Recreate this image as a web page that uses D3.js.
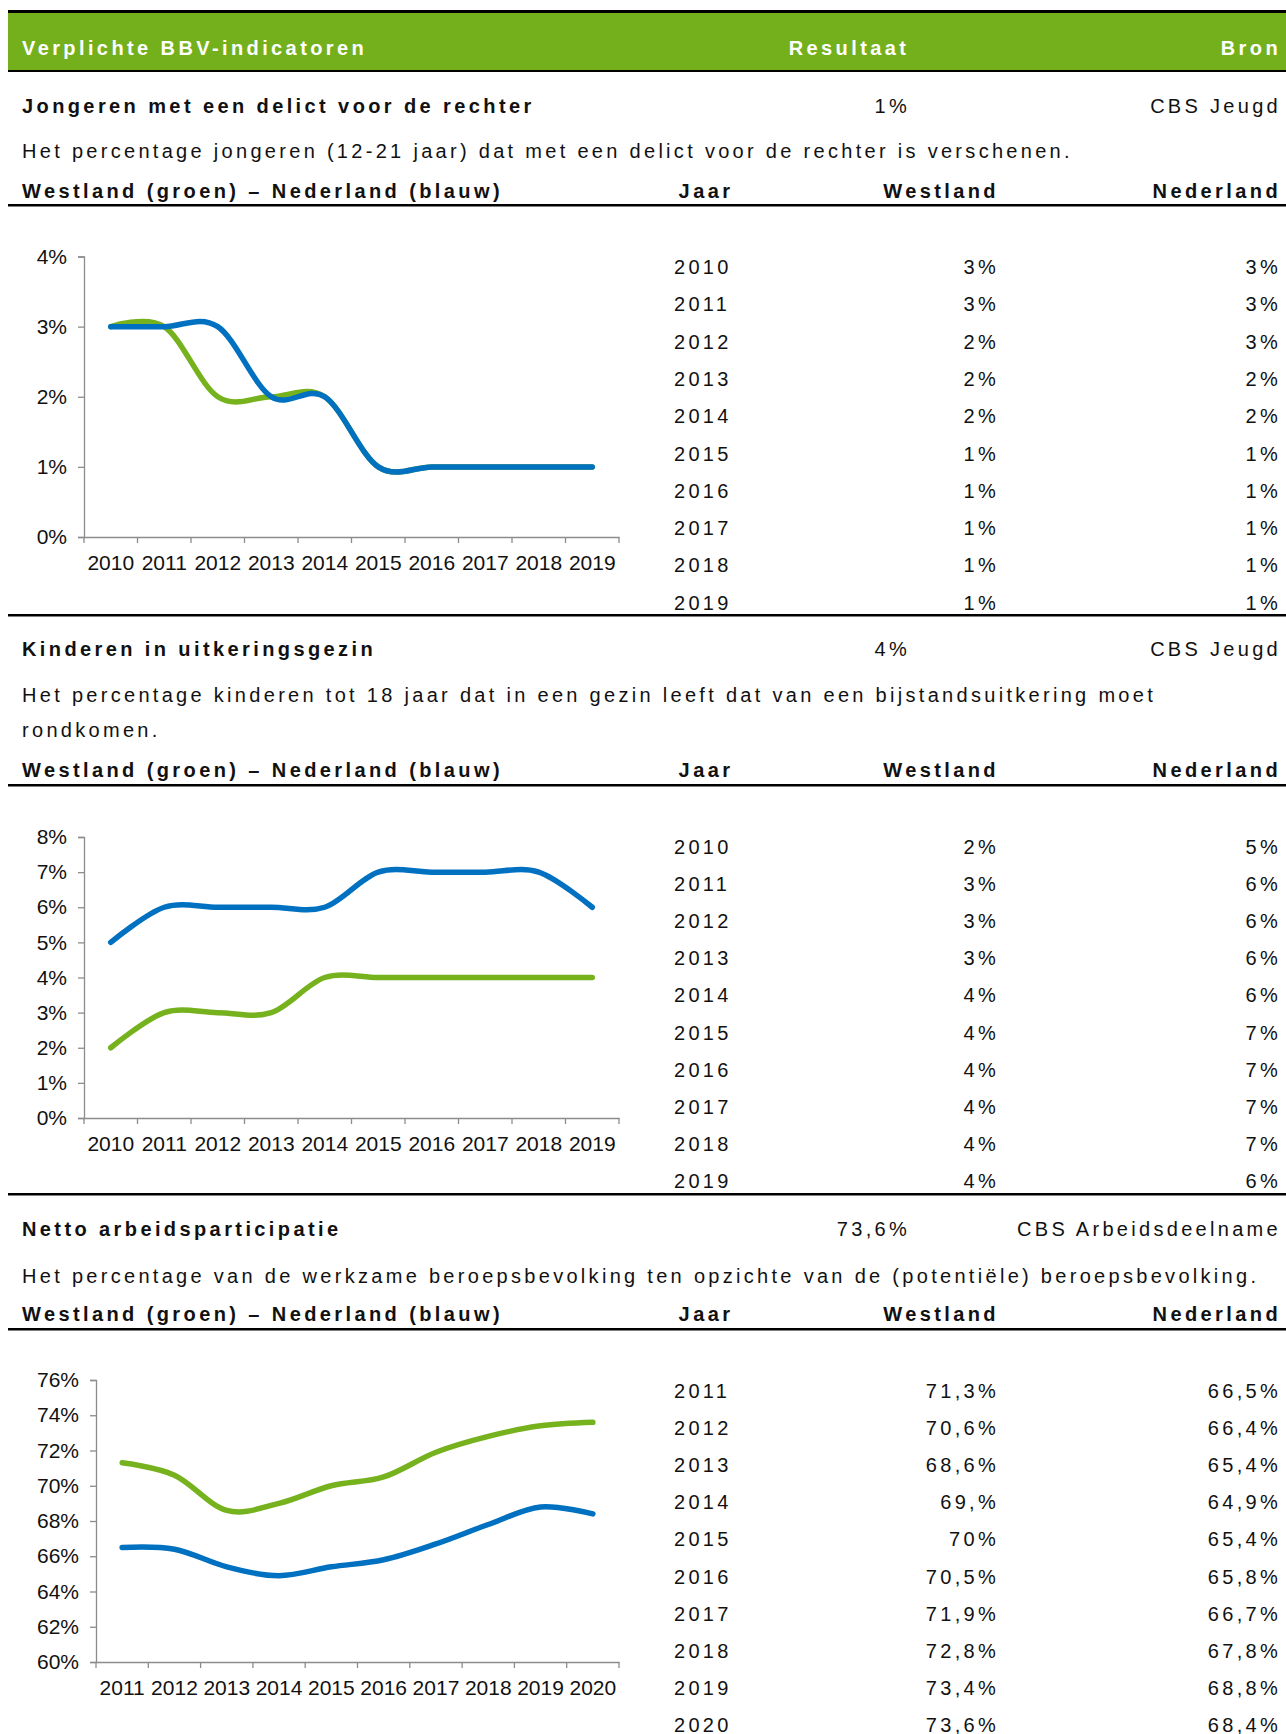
<!DOCTYPE html>
<html>
<head>
<meta charset="utf-8">
<script src="https://cdn.jsdelivr.net/npm/d3@7"></script>
<style>
  body { margin: 0; background: #fff; }
  svg { display: block; font-family: "Liberation Sans", Arial, sans-serif; }
</style>
</head>
<body>
<svg id="chart"></svg>
<script>
// --- data ---
const years1 = ["2010", "2011", "2012", "2013", "2014", "2015", "2016", "2017", "2018", "2019"];
const westland1 = [3, 3, 2, 2, 2, 1, 1, 1, 1, 1];
const nederland1 = [3, 3, 3, 2, 2, 1, 1, 1, 1, 1];

const years2 = ["2010", "2011", "2012", "2013", "2014", "2015", "2016", "2017", "2018", "2019"];
const westland2 = [2, 3, 3, 3, 4, 4, 4, 4, 4, 4];
const nederland2 = [5, 6, 6, 6, 6, 7, 7, 7, 7, 6];

const years3 = ["2011", "2012", "2013", "2014", "2015", "2016", "2017", "2018", "2019", "2020"];
const westland3 = [71.3, 70.6, 68.6, 69, 70, 70.5, 71.9, 72.8, 73.4, 73.6];
const nederland3 = [66.5, 66.4, 65.4, 64.9, 65.4, 65.8, 66.7, 67.8, 68.8, 68.4];
const westland3Labels = ["71,3%", "70,6%", "68,6%", "69,%", "70%", "70,5%", "71,9%", "72,8%", "73,4%", "73,6%"];
const nederland3Labels = ["66,5%", "66,4%", "65,4%", "64,9%", "65,4%", "65,8%", "66,7%", "67,8%", "68,8%", "68,4%"];

const titles = ["Jongeren met een delict voor de rechter", "Kinderen in uitkeringsgezin", "Netto arbeidsparticipatie"];
const results = ["1%", "4%", "73,6%"];
const sources = ["CBS Jeugd", "CBS Jeugd", "CBS Arbeidsdeelname"];
const descriptions = [
  ["Het percentage jongeren (12-21 jaar) dat met een delict voor de rechter is verschenen."],
  ["Het percentage kinderen tot 18 jaar dat in een gezin leeft dat van een bijstandsuitkering moet", "rondkomen."],
  ["Het percentage van de werkzame beroepsbevolking ten opzichte van de (potentiële) beroepsbevolking."]
];

const W = 1286, H = 1734;
const GREEN = "#76b21e", BLUE = "#0070c0", HEADER = "#74b01c", AXIS = "#8c8c8c";
const LS = 3.3, LS_BOLD = 3.4;

const svg = d3.select("#chart").attr("width", W).attr("height", H);

function label(x, y, str, opt = {}) {
  return svg.append("text")
    .attr("x", x).attr("y", y)
    .attr("text-anchor", opt.anchor || "start")
    .attr("font-size", opt.size || 20)
    .attr("font-weight", opt.bold ? "bold" : "normal")
    .attr("letter-spacing", opt.ls == null ? (opt.bold ? LS_BOLD : LS) : opt.ls)
    .attr("fill", opt.fill || "#111")
    .text(str);
}

function hline(y, w) {
  svg.append("rect").attr("x", 8).attr("y", y).attr("width", W - 8).attr("height", w || 2).attr("fill", "#000");
}

// header band
hline(10, 3);
svg.append("rect").attr("x", 8).attr("y", 13).attr("width", W - 8).attr("height", 57).attr("fill", HEADER);
hline(70, 2);
label(22, 55, "Verplichte BBV-indicatoren", { bold: true, fill: "#fff" });
label(849, 55, "Resultaat", { bold: true, fill: "#fff", anchor: "middle" });
label(1281, 55, "Bron", { bold: true, fill: "#fff", anchor: "end" });

// sections
const sections = [
  { years: years1, w: westland1, n: nederland1, wl: westland1.map(v => v + "%"), nl: nederland1.map(v => v + "%"),
    titleY: 113, descY: [158], headY: 198, lineY: 204, rowY: 274, rowStep: 37.3, sepY: 614,
    chart: { left: 84, right: 619, top: 256.5, bottom: 537, domain: [0, 4], ticks: [0, 1, 2, 3, 4] } },
  { years: years2, w: westland2, n: nederland2, wl: westland2.map(v => v + "%"), nl: nederland2.map(v => v + "%"),
    titleY: 656, descY: [702, 737], headY: 777, lineY: 784, rowY: 854, rowStep: 37.1, sepY: 1193,
    chart: { left: 84, right: 619, top: 837, bottom: 1118, domain: [0, 8], ticks: [0, 1, 2, 3, 4, 5, 6, 7, 8] } },
  { years: years3, w: westland3, n: nederland3, wl: westland3Labels, nl: nederland3Labels,
    titleY: 1236, descY: [1283], headY: 1321, lineY: 1328, rowY: 1398, rowStep: 37.1, sepY: null,
    chart: { left: 96, right: 619, top: 1380, bottom: 1662, domain: [60, 76], ticks: [60, 62, 64, 66, 68, 70, 72, 74, 76] } }
];

sections.forEach((s, i) => {
  label(22, s.titleY, titles[i], { bold: true });
  label(910, s.titleY, results[i], { anchor: "end" });
  label(1281, s.titleY, sources[i], { anchor: "end" });
  descriptions[i].forEach((d, j) => label(22, s.descY[j], d));
  label(22, s.headY, "Westland (groen) \u2013 Nederland (blauw)", { bold: true });
  label(706, s.headY, "Jaar", { bold: true, anchor: "middle" });
  label(999, s.headY, "Westland", { bold: true, anchor: "end" });
  label(1281, s.headY, "Nederland", { bold: true, anchor: "end" });
  hline(s.lineY, 2.5);

  // table
  s.years.forEach((yr, k) => {
    const y = s.rowY + k * s.rowStep;
    label(674, y, yr);
    label(999, y, s.wl[k], { anchor: "end" });
    label(1281, y, s.nl[k], { anchor: "end" });
  });
  if (s.sepY) hline(s.sepY, 2.5);

  // chart
  const c = s.chart;
  const x = d3.scaleBand().domain(s.years).range([c.left, c.right]);
  const y = d3.scaleLinear().domain(c.domain).range([c.bottom, c.top]);
  const g = svg.append("g");

  const xAxis = g.append("g").attr("transform", `translate(0,${c.bottom})`)
    .call(d3.axisBottom(x).tickSize(0).tickPadding(18));
  xAxis.select(".domain").attr("stroke", AXIS).attr("stroke-width", 1.3);
  xAxis.selectAll("text").attr("font-size", 21).attr("fill", "#111").attr("font-family", "Liberation Sans, Arial");
  // category boundary ticks
  const bounds = s.years.map(d => x(d)).concat([c.right]);
  g.selectAll(null).data(bounds).join("line")
    .attr("x1", d => d).attr("x2", d => d)
    .attr("y1", c.bottom).attr("y2", c.bottom + 6)
    .attr("stroke", AXIS).attr("stroke-width", 1.3);

  const yAxis = g.append("g").attr("transform", `translate(${c.left},0)`)
    .call(d3.axisLeft(y).tickValues(c.ticks).tickSize(6).tickPadding(11).tickFormat(d => d + "%"));
  yAxis.select(".domain").attr("stroke", AXIS).attr("stroke-width", 1.3);
  yAxis.selectAll(".tick line").attr("stroke", AXIS).attr("stroke-width", 1.3);
  yAxis.selectAll("text").attr("font-size", 21).attr("fill", "#111").attr("font-family", "Liberation Sans, Arial");

  const line = d3.line()
    .x((d, k) => x(s.years[k]) + x.bandwidth() / 2)
    .y(d => y(d))
    .curve(d3.curveCatmullRom.alpha(0));

  g.append("path").datum(s.w).attr("d", line).attr("fill", "none")
    .attr("stroke", GREEN).attr("stroke-width", 5.5).attr("stroke-linecap", "round");
  g.append("path").datum(s.n).attr("d", line).attr("fill", "none")
    .attr("stroke", BLUE).attr("stroke-width", 5.5).attr("stroke-linecap", "round");
});
</script>
</body>
</html>
